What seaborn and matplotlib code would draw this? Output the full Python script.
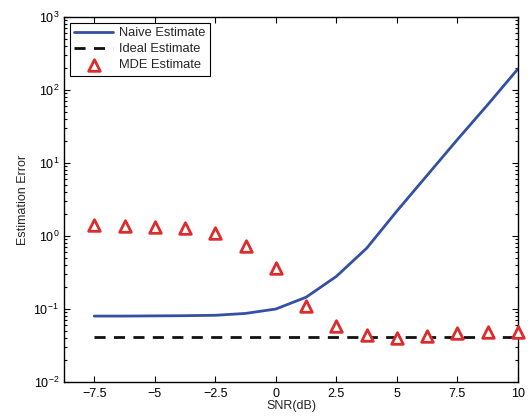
import numpy as np
import pandas as pd
import matplotlib
matplotlib.use("Agg")
import matplotlib.pyplot as plt
import seaborn as sns
from matplotlib.ticker import FixedLocator, FixedFormatter, LogLocator, NullFormatter

# --- data ---
snr_db = [-7.5, -6.25, -5, -3.75, -2.5, -1.25, 0, 1.25, 2.5, 3.75, 5, 6.25, 7.5, 8.75, 10]
naive_err = [0.080, 0.080, 0.0805, 0.081, 0.082, 0.087, 0.100, 0.145, 0.28, 0.68, 2.2, 6.8, 21, 63, 195]
ideal_err = [0.041] * len(snr_db)
mde_err = [1.40, 1.37, 1.34, 1.30, 1.09, 0.74, 0.37, 0.11, 0.058, 0.044, 0.040, 0.043, 0.047, 0.048, 0.048]

x_ticks = [-7.5, -5, -2.5, 0, 2.5, 5, 7.5, 10]
x_tick_labels = ["\u22127.5", "\u22125", "\u22122.5", "0", "2.5", "5", "7.5", "10"]

df = pd.DataFrame({"snr": snr_db, "naive": naive_err, "ideal": ideal_err, "mde": mde_err})

sns.set_style("ticks", {"xtick.direction": "in", "ytick.direction": "in"})
plt.rcParams["font.family"] = ["Liberation Sans", "DejaVu Sans"]

fig = plt.figure(figsize=(5.29, 4.18), dpi=100)
ax = fig.add_axes([64 / 529, 36 / 418, 454 / 529, 365 / 418])

blue = "#3350a3"
red = "#de2b2b"

sns.lineplot(data=df, x="snr", y="naive", ax=ax, color=blue, linewidth=2,
             label="Naive Estimate")
sns.lineplot(data=df, x="snr", y="ideal", ax=ax, color="#111111", linewidth=2,
             linestyle=(0, (4, 3)), label="Ideal Estimate")
sns.scatterplot(data=df, x="snr", y="mde", ax=ax, marker="^", s=70,
                facecolor="white", edgecolor=red, linewidth=2,
                label="MDE Estimate", zorder=5, clip_on=False)

ax.set_yscale("log")
ax.set_ylim(1e-2, 1e3)
ax.set_xlim(-8.75, 10)

ax.xaxis.set_major_locator(FixedLocator(x_ticks))
ax.xaxis.set_major_formatter(FixedFormatter(x_tick_labels))
ax.yaxis.set_major_locator(LogLocator(base=10, numticks=10))
ax.yaxis.set_minor_locator(LogLocator(base=10, subs=np.arange(2, 10), numticks=10))
ax.yaxis.set_minor_formatter(NullFormatter())

ax.tick_params(which="both", direction="in", top=True, right=True, labelsize=9,
               colors="black", width=0.8)
ax.tick_params(which="major", length=4)
ax.tick_params(which="minor", length=2.5)
ax.tick_params(axis="x", pad=4)
for s in ax.spines.values():
    s.set_visible(True)
    s.set_color("black")
    s.set_linewidth(1.0)

ax.set_xlabel("SNR(dB)", fontsize=9, labelpad=0)
ax.set_ylabel("Estimation Error", fontsize=9, labelpad=3)

leg = ax.legend(loc="upper left", fontsize=9.3, fancybox=False, framealpha=1,
                edgecolor="black", borderaxespad=0.45, handlelength=3.0,
                handletextpad=0.45, borderpad=0.35, labelspacing=0.3)
leg.get_frame().set_linewidth(0.8)

fig.savefig("out.png", dpi=100)
